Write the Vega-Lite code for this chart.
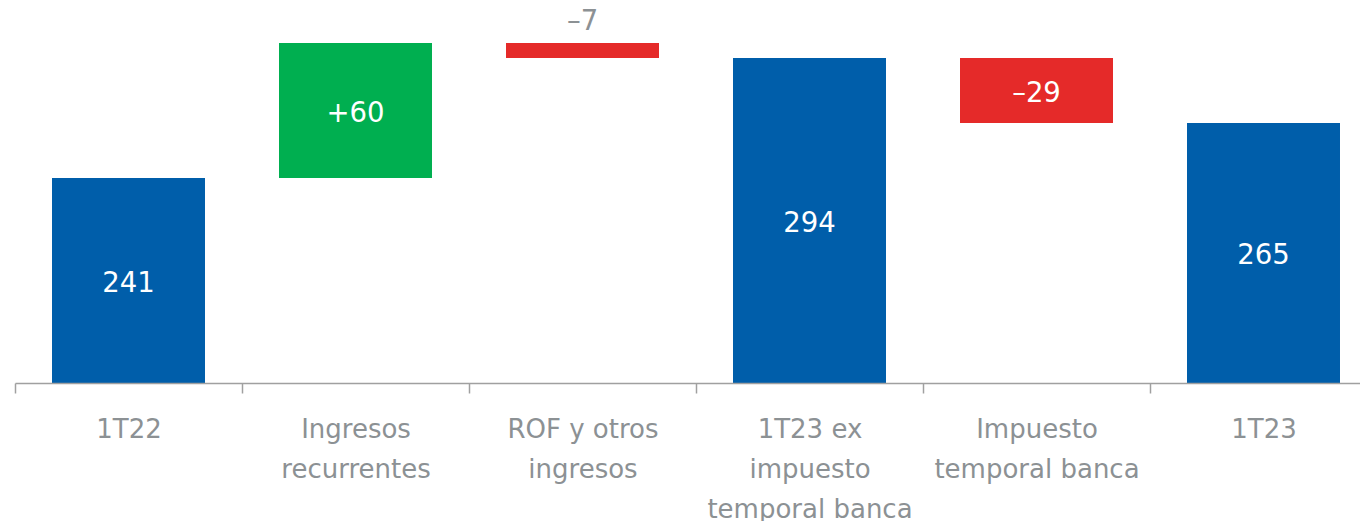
{
  "$schema": "https://vega.github.io/schema/vega-lite/v6.json",
  "autosize": {"type": "none"},
  "padding": {"left": 15, "top": 0, "right": 0, "bottom": 138},
  "width": 1362,
  "height": 383,
  "background": "white",
  "config": {"view": {"stroke": null}, "font": "DejaVu Sans"},
  "data": {
    "values": [
      {"cat": "1T22", "start": 0, "end": 205, "label": "241", "kind": "total"},
      {"cat": "Ingresos|recurrentes", "start": 205, "end": 340, "label": "+60", "kind": "up"},
      {"cat": "ROF y otros|ingresos", "start": 325, "end": 340, "label": "–7", "kind": "down", "outside": true},
      {"cat": "1T23 ex|impuesto|temporal banca", "start": 0, "end": 325, "label": "294", "kind": "total"},
      {"cat": "Impuesto|temporal banca", "start": 260, "end": 325, "label": "–29", "kind": "down"},
      {"cat": "1T23", "start": 0, "end": 260, "label": "265", "kind": "total"}
    ]
  },
  "encoding": {
    "x": {
      "field": "cat", "type": "nominal", "sort": null,
      "scale": {"paddingInner": 0.326, "paddingOuter": 0.163},
      "axis": {
        "title": null, "labelAngle": 0,
        "labelExpr": "split(datum.label, '|')",
        "labelFontSize": 26, "labelLineHeight": 40, "labelColor": "#8C9194",
        "labelPadding": 23, "labelFont": "DejaVu Sans",
        "domainColor": "#A0A0A0", "domainWidth": 1.5,
        "tickColor": "#A0A0A0", "tickSize": 10, "tickWidth": 1.5,
        "tickOffset": -113.5, "labelOffset": 113.5,
        "labelLimit": 300, "zindex": 1
      }
    }
  },
  "layer": [
    {
      "mark": {"type": "bar"},
      "encoding": {
        "y": {"field": "start", "type": "quantitative", "scale": {"domain": [0, 383], "nice": false}, "axis": null},
        "y2": {"field": "end"},
        "color": {
          "field": "kind", "type": "nominal", "legend": null,
          "scale": {"domain": ["total", "up", "down"], "range": ["#005EAA", "#00AF50", "#E52A29"]}
        }
      }
    },
    {
      "transform": [{"filter": "!datum.outside"}, {"calculate": "(datum.start + datum.end) / 2", "as": "mid"}],
      "mark": {"type": "text", "color": "white", "fontSize": 27.5, "baseline": "middle", "dy": 3, "font": "DejaVu Sans"},
      "encoding": {
        "y": {"field": "mid", "type": "quantitative"},
        "text": {"field": "label"}
      }
    },
    {
      "transform": [{"filter": "datum.outside"}],
      "mark": {"type": "text", "color": "#8C9194", "fontSize": 27.5, "baseline": "bottom", "dy": -7, "font": "DejaVu Sans"},
      "encoding": {
        "y": {"field": "end", "type": "quantitative"},
        "text": {"field": "label"}
      }
    }
  ]
}
